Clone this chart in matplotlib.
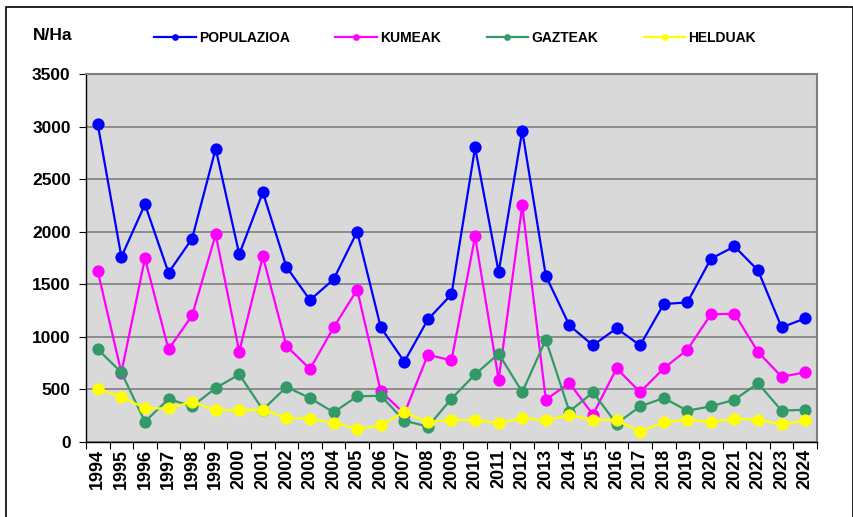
import matplotlib
matplotlib.use("Agg")
import matplotlib.pyplot as plt
from matplotlib.patches import Rectangle
from matplotlib.ticker import FixedLocator, MultipleLocator

plt.rcParams['font.family'] = ['Liberation Sans', 'DejaVu Sans']
plt.rcParams['font.weight'] = 'bold'

years = list(range(1994, 2025))

# N/Ha per year
populazioa = [3020, 1760, 2260, 1610, 1935, 2790, 1785, 2375, 1665, 1350,
              1547, 2000, 1090, 764, 1166, 1404, 2801, 1616, 2960, 1581,
              1109, 919, 1081, 919, 1312, 1328, 1743, 1860, 1632, 1090, 1176]
kumeak = [1623, 660, 1746, 881, 1204, 1974, 859, 1765, 913, 694,
          1090, 1448, 482, 270, 830, 776, 1955, 593, 2250, 402,
          561, 260, 700, 475, 700, 878, 1214, 1220, 856, 621, 662]
gazteak = [881, 662, 193, 409, 339, 513, 643, 307, 523, 418,
           282, 434, 440, 203, 146, 412, 643, 840, 475, 973,
           290, 472, 174, 339, 418, 298, 339, 402, 558, 298, 307]
helduak = [504, 431, 320, 320, 383, 301, 301, 307, 228, 222,
           181, 124, 158, 285, 187, 212, 206, 181, 228, 206,
           254, 212, 206, 98, 187, 212, 190, 222, 212, 168, 206]

series = [
    ("POPULAZIOA", populazioa, "#0000ff"),
    ("KUMEAK", kumeak, "#ff00ff"),
    ("GAZTEAK", gazteak, "#339966"),
    ("HELDUAK", helduak, "#ffff00"),
]

W, H = 854, 517
fig = plt.figure(figsize=(W / 100, H / 100), dpi=100)

# outer frame of the chart
fig.patches.append(Rectangle((6 / W, -0.05), (853 - 6) / W, 1.05 - 7 / H,
                             transform=fig.transFigure, fill=False,
                             edgecolor="black", linewidth=1.2))

ax = fig.add_axes([86 / W, 1 - 442 / H, (817 - 86) / W, (442 - 74) / H])
ax.set_facecolor("#d9d9d9")

x = list(range(len(years)))
for name, vals, col in series:
    ax.plot(x, vals, color=col, linewidth=1.6, marker="o", markersize=8.8,
            markeredgewidth=0, label=name)

ax.set_xlim(-0.5, len(years) - 0.5)
ax.set_ylim(0, 3500)
ax.yaxis.set_major_locator(MultipleLocator(500))
ax.grid(axis="y", color="#808080", linewidth=1.2)
ax.set_axisbelow(True)

# categories centred, ticks on the boundaries like Excel
ax.xaxis.set_major_locator(FixedLocator([i - 0.5 for i in range(len(years) + 1)]))
ax.xaxis.set_minor_locator(FixedLocator(x))
ax.set_xticklabels([])
ax.set_xticklabels([str(y) for y in years], minor=True, rotation=90,
                   fontsize=13, fontweight="bold")
ax.tick_params(axis="x", which="major", direction="out", length=5, color="black")
ax.tick_params(axis="x", which="minor", length=0, pad=5)
ax.tick_params(axis="y", direction="out", length=5, labelsize=12.5, pad=6)
for lab in ax.get_yticklabels():
    lab.set_fontweight("bold")

for side in ("top", "right"):
    ax.spines[side].set_color("#808080")
    ax.spines[side].set_linewidth(1.5)
for side in ("left", "bottom"):
    ax.spines[side].set_color("black")
    ax.spines[side].set_linewidth(1.0)

fig.text(33 / W, 1 - 36 / H, "N/Ha", fontsize=12.5, fontweight="bold",
         va="center", ha="left")

fig.legend(loc="center", bbox_to_anchor=(455 / W, 1 - 38 / H), ncol=4,
           frameon=False, fontsize=10, handlelength=3.0, handletextpad=0.2,
           columnspacing=3.3, markerscale=0.55)

fig.savefig("out.png", dpi=100)
